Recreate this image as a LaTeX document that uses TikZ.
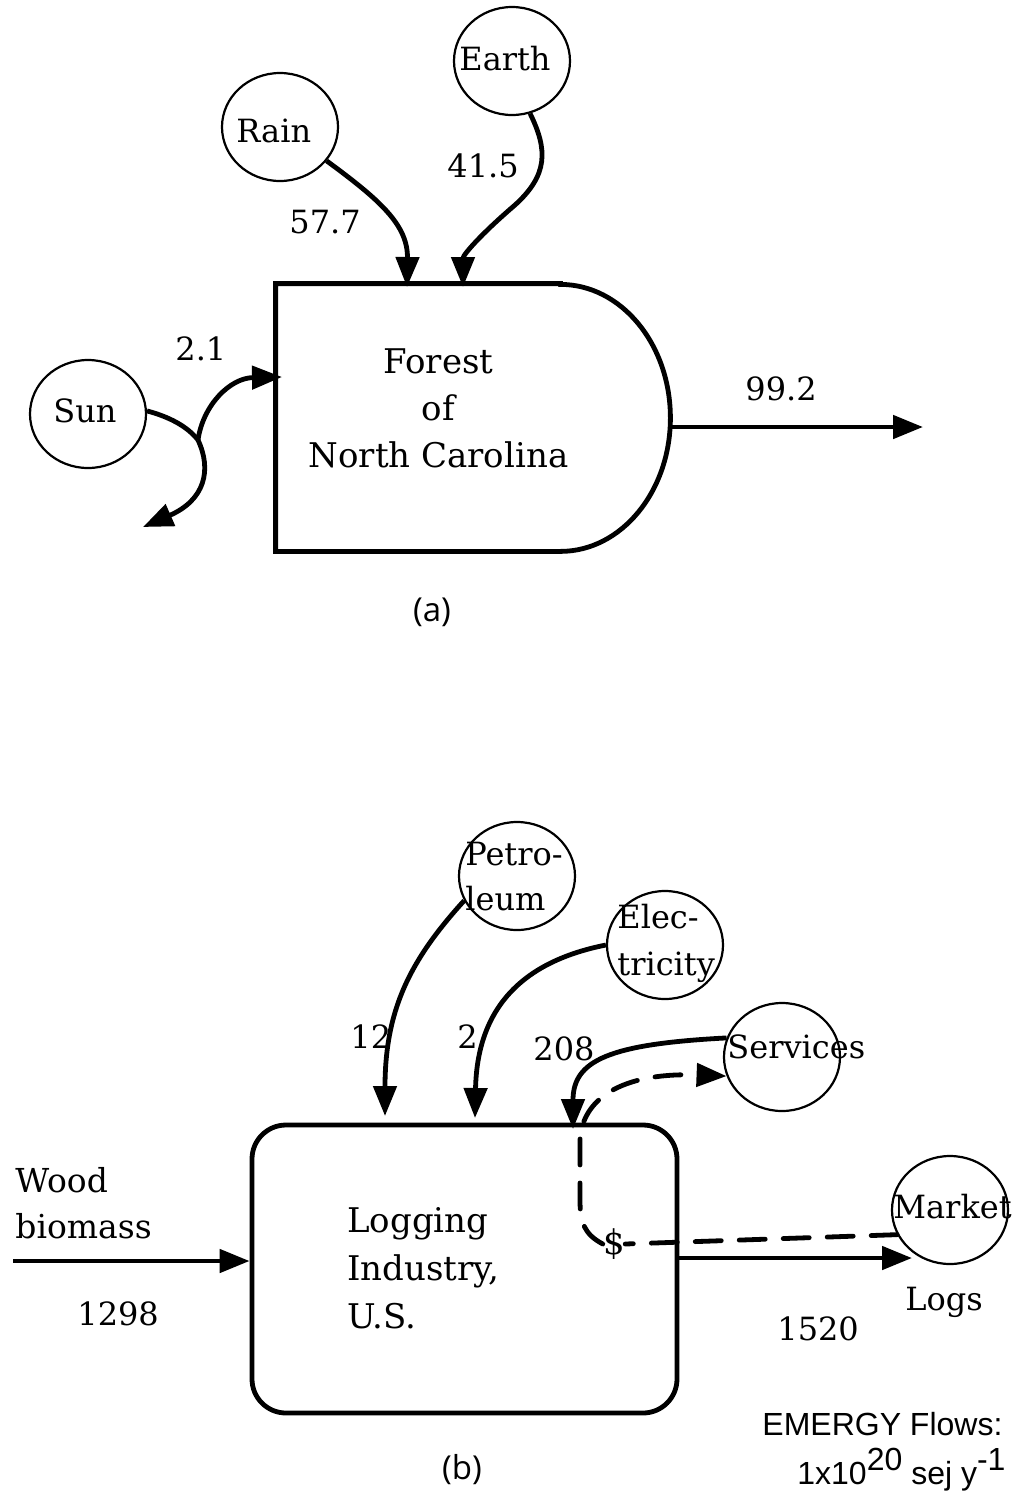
\documentclass[tikz,border=0pt]{standalone}
\usepackage{fontspec}
\setmainfont{DejaVu Serif}
\newfontfamily\labsans{Open Sans}
\newfontfamily\arialsans{Liberation Sans}
\usetikzlibrary{arrows.meta,shapes.geometric}
\begin{document}
\begin{tikzpicture}[x=0.5pt,y=-0.5pt,
  txt/.style={inner sep=0pt, font=\fontsize{16}{20}\selectfont},
  bigtxt/.style={inner sep=0pt, font=\fontsize{17}{20}\selectfont},
  src/.style={ellipse, draw, line width=1.1pt, minimum width=58pt, minimum height=54pt, inner sep=0pt},
  tip/.style={-{Triangle[length=15pt,width=11.5pt]}},
  flow/.style={line width=2.4pt, tip},
  money/.style={line width=2.4pt, dash pattern=on 13pt off 9pt, line cap=round},
  boxline/.style={line width=2.4pt, line join=miter}]
\useasboundingbox (0,0) rectangle (1012,1500);

% ---------------- (a) ----------------
\node[src] (rain) at (280,127) {};
\node[src] (earth) at (512,61) {};
\node[src] (sun) at (88,414) {};
\node[txt, anchor=base west] (rainT) at (236,142) {Rain};
\node[txt, anchor=base west] (earthT) at (459,70) {Earth};
\node[txt, anchor=base west] (sunT) at (53,422) {Sun};

\node[inner sep=0pt, minimum width=142pt, minimum height=133.5pt] (forest) at (418,417.5) {};
\draw[boxline] (forest.north east) -- (forest.north west) -- (forest.south west) -- (forest.south east)
  arc[start angle=-90, end angle=90, x radius=55pt, y radius=66.75pt] -- cycle;
\node[bigtxt, anchor=base] (forestA) at (438.5,373) {Forest};
\node[bigtxt, anchor=base] (forestB) at (438.5,420) {of};
\node[bigtxt, anchor=base] (forestC) at (438.5,467) {North Carolina};

\coordinate (rainIn) at (407,287);
\coordinate (earthIn) at (463,287);
\coordinate (sunIn) at (282,377);
\coordinate (sunJ) at (198,440);
\coordinate (sink) at (143,527);
\coordinate (fOut) at (670,427);
\coordinate (out) at (923,427);

\draw[flow] (rain.-36) .. controls (380,200) and (408,225) .. (rainIn);
\draw[flow] (earth.-71) .. controls (548,150) and (548,175) .. (515,205)
  .. controls (480,235) and (463,255) .. (earthIn);
\draw[line width=2.4pt] (sun.3) .. controls (170,417) and (188,427) .. (sunJ);
\draw[flow] (sunJ) .. controls (203,405) and (230,378) .. (sunIn);
\draw[flow] (sunJ) .. controls (212,470) and (205,500) .. (sink);
\draw[flow] (fOut) -- (out);

\node[txt, anchor=base west] (l577) at (289,233) {57.7};
\node[txt, anchor=base west] (l415) at (447,177) {41.5};
\node[txt, anchor=base west] (l21) at (175,360) {2.1};
\node[txt, anchor=base west] (l992) at (745,400) {99.2};

\node[inner sep=0pt, font=\labsans\fontsize{16.5}{20}\selectfont] (capA) at (432,612) {(a)};

% ---------------- (b) ----------------
\node[src] (petro) at (517,876) {};
\node[src] (elec) at (665,945) {};
\node[src] (serv) at (782,1057) {};
\node[src] (market) at (950,1210) {};
\node[txt, anchor=base west] (petroA) at (465,865) {Petro-};
\node[txt, anchor=base west] (petroB) at (465,910) {leum};
\node[txt, anchor=base west] (elecA) at (617,928) {Elec-};
\node[txt, anchor=base west] (elecB) at (617,975) {tricity};
\node[txt, anchor=base west] (servT) at (727,1058) {Services};
\node[txt, anchor=base west] (marketT) at (893,1218) {Market};

\node[draw, line width=2.4pt, rounded corners=17pt, minimum width=212.5pt, minimum height=144pt, inner sep=0pt] (log) at (464.5,1269) {};
\node[bigtxt, anchor=base west] (logA) at (347,1232) {Logging};
\node[bigtxt, anchor=base west] (logB) at (347,1280) {Industry,};
\node[bigtxt, anchor=base west] (logC) at (347,1328) {U.S.};

\coordinate (petroIn) at (385,1116);
\coordinate (elecIn) at (475,1118);
\coordinate (servIn) at (573,1129);
\coordinate (woodStart) at (13,1261);
\coordinate (logsEnd) at (912,1258);

\draw[flow] (petro.205) .. controls (410,960) and (385,1010) .. (petroIn);
\draw[flow] (elec.180) .. controls (520,962) and (477,1010) .. (elecIn);
\draw[flow] (serv.161) .. controls (610,1044) and (573,1060) .. (servIn);
\draw[flow] (woodStart) -- (woodStart -| log.west);
\draw[flow] (log.east |- logsEnd) -- (logsEnd);

\node[inner sep=0pt, font=\fontsize{17}{20}\selectfont] (dollar) at (614,1244) {\$};
\draw[money] (market.205) -- (dollar.east);
\draw[money, tip] (dollar.west) .. controls (584,1234) and (580,1222) .. (580,1200)
  -- (580,1140) .. controls (582,1100) and (620,1072) .. (serv.199);

\node[txt, anchor=base west, font=\fontsize{16.5}{20}\selectfont] (woodA) at (15,1192) {Wood};
\node[txt, anchor=base west, font=\fontsize{16.5}{20}\selectfont] (woodB) at (15,1238) {biomass};
\node[txt, anchor=base west] (l1298) at (77,1325) {1298};
\node[txt, anchor=base west] (l12) at (350,1048) {12};
\node[txt, anchor=base west] (l2) at (457,1048) {2};
\node[txt, anchor=base west] (l208) at (533,1060) {208};
\node[txt, anchor=base west] (l1520) at (777,1340) {1520};
\node[txt, anchor=base west] (logsT) at (905,1310) {Logs};

\node[inner sep=0pt, font=\labsans\fontsize{16.5}{20}\selectfont] (capB) at (462,1470) {(b)};
\node[inner sep=0pt, anchor=base west, font=\arialsans\fontsize{16}{20}\selectfont] (emA) at (762,1435) {EMERGY Flows:};
\node[inner sep=0pt, anchor=base west, font=\arialsans\fontsize{16}{20}\selectfont] (emB) at (797,1484) {1x10\raisebox{7pt}{20} sej y\raisebox{7pt}{-1}};
\end{tikzpicture}
\end{document}
